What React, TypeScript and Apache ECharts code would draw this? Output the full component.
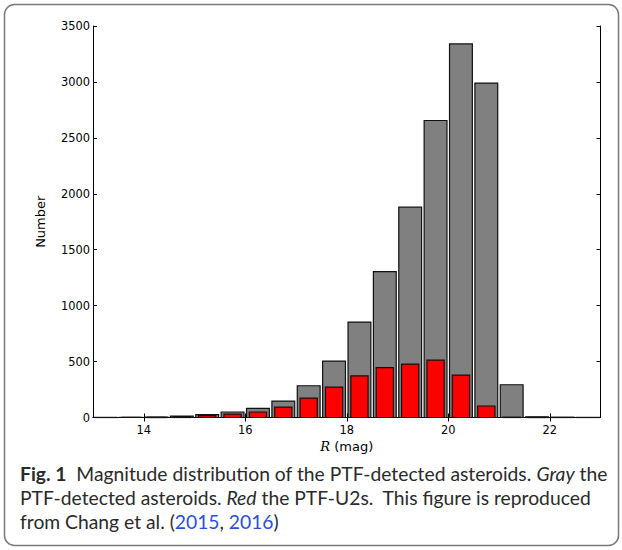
import React, { useEffect, useRef } from "react";
import * as echarts from "echarts";

// Histogram bins (R magnitude), width 0.5 mag
const binStarts = [13, 13.5, 14, 14.5, 15, 15.5, 16, 16.5, 17, 17.5, 18, 18.5, 19, 19.5, 20, 20.5, 21, 21.5, 22, 22.5];
const binWidth = 0.5;
// Gray: all PTF-detected asteroids
const grayCounts = [1, 2, 4, 13, 25, 49, 82, 147, 284, 504, 853, 1305, 1880, 2655, 3340, 2990, 293, 6, 3, 1];
// Red: PTF-U2s
const redCounts = [0, 1, 2, 8, 16, 31, 49, 93, 174, 272, 373, 445, 478, 513, 379, 103, 3, 1, 0, 0];

const xTickValues = [14, 16, 18, 20, 22];
const xMin = 13;
const xMax = 23;
const yMin = 0;
const yMax = 3500;
const yInterval = 500;

const captionLine1 = "{b|Fig. 1}  Magnitude distribution of the PTF-detected asteroids. {i|Gray} the";
const captionLine2 = "PTF-detected asteroids. {i|Red} the PTF-U2s.  This figure is reproduced";
const captionLine3 = "from Chang et al. ({l|2015}, {l|2016})";

export default function App() {
  const ref = useRef<HTMLDivElement>(null);

  useEffect(() => {
    if (!ref.current) return;
    const chart = echarts.init(ref.current, null, { renderer: "svg" });

    const makeRender = (frac: number, fill: string, stroke: string, lw: number) =>
      (params: any, api: any) => {
        const x0 = api.value(0);
        const x1 = api.value(1);
        const y = api.value(2);
        const pad = ((x1 - x0) * (1 - frac)) / 2;
        const p0 = api.coord([x0 + pad, y]);
        const p1 = api.coord([x1 - pad, 0]);
        return {
          type: "rect",
          shape: { x: p0[0], y: p0[1], width: p1[0] - p0[0], height: p1[1] - p0[1] },
          style: { fill, stroke, lineWidth: lw },
        };
      };

    const grayData = binStarts.map((s, i) => [s, s + binWidth, grayCounts[i]]);
    const redData = binStarts.map((s, i) => [s, s + binWidth, redCounts[i]]);

    const tickFont = { fontFamily: "DejaVu Sans", fontSize: 11.4, color: "#000" };
    const capFont = "Lato";
    const capSize = 19.3;
    const capColor = "#2a2a2a";

    chart.setOption({
      animation: false,
      backgroundColor: "#fff",
      grid: { left: 93, right: 21.5, top: 26, bottom: 132.5, containLabel: false },
      xAxis: [
        {
          type: "value",
          min: xMin,
          max: xMax,
          position: "bottom",
          name: "{r|R} (mag)",
          nameLocation: "middle",
          nameGap: 21,
          nameTextStyle: {
            fontFamily: "DejaVu Sans",
            fontSize: 13,
            color: "#000",
            rich: { r: { fontFamily: "DejaVu Serif", fontStyle: "italic", fontSize: 13, color: "#000" } },
          },
          axisLine: { show: true, lineStyle: { color: "#000", width: 1 } },
          axisTick: { show: true, inside: true, length: 4, customValues: xTickValues, lineStyle: { color: "#000" } },
          axisLabel: { show: true, customValues: xTickValues, margin: 7, formatter: (v: number) => String(v), ...tickFont },
          splitLine: { show: false },
        },
        {
          type: "value",
          min: xMin,
          max: xMax,
          position: "top",
          axisLine: { show: true, lineStyle: { color: "#000", width: 1 } },
          axisTick: { show: true, inside: true, length: 4, customValues: xTickValues, lineStyle: { color: "#000" } },
          axisLabel: { show: false },
          splitLine: { show: false },
        },
      ],
      yAxis: [
        {
          type: "value",
          min: yMin,
          max: yMax,
          interval: yInterval,
          position: "left",
          name: "Number",
          nameLocation: "middle",
          nameGap: 46,
          nameTextStyle: { fontFamily: "DejaVu Sans", fontSize: 13, color: "#000" },
          axisLine: { show: true, lineStyle: { color: "#000", width: 1 } },
          axisTick: { show: true, inside: true, length: 4, lineStyle: { color: "#000" } },
          axisLabel: { show: true, margin: 3, formatter: (v: number) => String(v), ...tickFont },
          splitLine: { show: false },
        },
        {
          type: "value",
          min: yMin,
          max: yMax,
          interval: yInterval,
          position: "right",
          axisLine: { show: true, lineStyle: { color: "#000", width: 1 } },
          axisTick: { show: true, inside: true, length: 4, lineStyle: { color: "#000" } },
          axisLabel: { show: false },
          splitLine: { show: false },
        },
      ],
      series: [
        {
          type: "custom",
          name: "PTF-detected",
          xAxisIndex: 0,
          yAxisIndex: 0,
          renderItem: makeRender(0.9, "#808080", "#111", 1.2),
          encode: { x: [0, 1], y: 2 },
          data: grayData,
        },
        {
          type: "custom",
          name: "PTF-U2s",
          xAxisIndex: 0,
          yAxisIndex: 0,
          renderItem: makeRender(0.68, "#ff0000", "#111", 1.2),
          encode: { x: [0, 1], y: 2 },
          data: redData,
        },
      ],
      graphic: [
        {
          type: "rect",
          shape: { x: 4.5, y: 4.5, width: 614, height: 541, r: 10 },
          style: { fill: "none", stroke: "#7a7a7a", lineWidth: 1.5 },
          silent: true,
        },
        {
          type: "text",
          x: 20,
          y: 473,
          style: {
            text: captionLine1,
            fontFamily: capFont,
            fontSize: capSize,
            fill: capColor,
            verticalAlign: "middle",
            rich: {
              b: { fontFamily: capFont, fontSize: capSize, fontWeight: "bold", fill: capColor },
              i: { fontFamily: capFont, fontSize: capSize, fontStyle: "italic", fill: capColor },
            },
          },
        },
        {
          type: "text",
          x: 20,
          y: 497,
          style: {
            text: captionLine2,
            fontFamily: capFont,
            fontSize: capSize,
            fill: capColor,
            verticalAlign: "middle",
            rich: {
              i: { fontFamily: capFont, fontSize: capSize, fontStyle: "italic", fill: capColor },
            },
          },
        },
        {
          type: "text",
          x: 20,
          y: 521,
          style: {
            text: captionLine3,
            fontFamily: capFont,
            fontSize: capSize,
            fill: capColor,
            verticalAlign: "middle",
            rich: {
              l: { fontFamily: capFont, fontSize: capSize, fill: "#2a4fd6" },
            },
          },
        },
      ],
    });

    return () => chart.dispose();
  }, []);

  return (
    <div
      ref={ref}
      style={{ position: "fixed", left: 0, top: 0, width: 622, height: 550 }}
    />
  );
}
